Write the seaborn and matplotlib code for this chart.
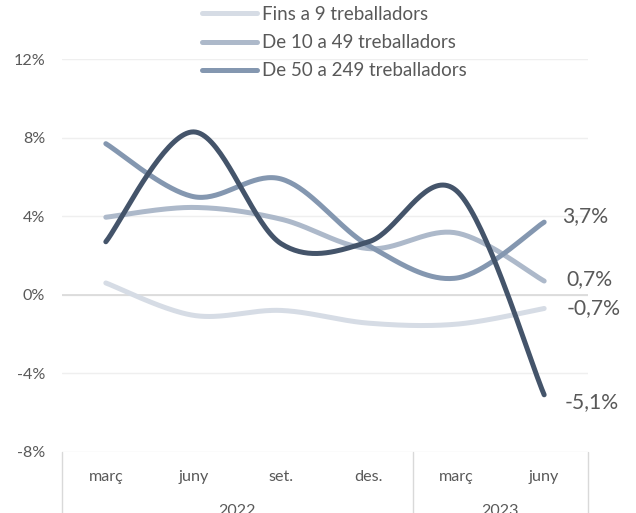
import matplotlib
matplotlib.use("Agg")
import matplotlib.pyplot as plt
import numpy as np
import pandas as pd
import seaborn as sns

# categories (quarters) and years
months = ["març", "juny", "set.", "des.", "març", "juny"]
years = ["2022", "2023"]
year_spans = [(0, 3), (4, 5)]

# series values (% variation)
fins_9 = [0.6, -1.05, -0.8, -1.45, -1.5, -0.7]
de_10_49 = [3.95, 4.45, 3.85, 2.35, 3.15, 0.7]
de_50_249 = [7.7, 5.0, 5.9, 2.5, 0.85, 3.7]
de_250 = [2.7, 8.3, 2.6, 2.7, 5.3, -5.1]

series_names = ["Fins a 9 treballadors", "De 10 a 49 treballadors",
                "De 50 a 249 treballadors", "De 250 treballadors i més"]
series_vals = [fins_9, de_10_49, de_50_249, de_250]
colors = ["#d6dce5", "#adb9ca", "#8497b0", "#44546a"]
# label offsets (points) for the end-of-line labels
label_offsets = [(16, 0), (16, 1.5), (13, 4), (14.5, -5)]


def excel_smooth(xs, ys, n=40):
	# bezier smoothing like Excel's "smoothed line"
	pts = np.column_stack([xs, ys]).astype(float)
	out = []
	for i in range(len(pts) - 1):
		p0 = pts[max(i - 1, 0)]
		p1 = pts[i]
		p2 = pts[i + 1]
		p3 = pts[min(i + 2, len(pts) - 1)]
		c1 = p1 + (p2 - p0) / 6
		c2 = p2 - (p3 - p1) / 6
		t = np.linspace(0, 1, n)[:, None]
		seg = (1 - t) ** 3 * p1 + 3 * (1 - t) ** 2 * t * c1 + 3 * (1 - t) * t ** 2 * c2 + t ** 3 * p2
		out.append(seg if i == 0 else seg[1:])
	return np.vstack(out)


rows = []
for name, vals in zip(series_names, series_vals):
	sm = excel_smooth(np.arange(len(vals)), vals)
	for xx, yy in sm:
		rows.append({"serie": name, "x": xx, "y": yy})
df = pd.DataFrame(rows)

sns.set_theme(style="white")
plt.rcParams["font.family"] = ["Lato", "DejaVu Sans"]
txt = "#595959"

fig = plt.figure(figsize=(6.36, 5.13), dpi=100)
ax = fig.add_axes([62 / 636, 1 - 451.7 / 513, 526 / 636, 392.4 / 513])

sns.lineplot(data=df, x="x", y="y", hue="serie", hue_order=series_names,
             palette=colors, sort=False, estimator=None,
             linewidth=3.6, solid_capstyle="round", legend=False, ax=ax)

ax.set_xlim(-0.5, 5.5)
ax.set_ylim(-8, 12)
ax.set_yticks([-8, -4, 0, 4, 8, 12])
ax.set_yticklabels([f"{v}%" for v in [-8, -4, 0, 4, 8, 12]])
ax.set_xticks(range(len(months)))
ax.set_xticklabels(months)
ax.tick_params(axis="y", length=0, pad=12, labelsize=11.6, labelcolor=txt)
ax.tick_params(axis="x", length=0, pad=13, labelsize=11.6, labelcolor=txt)
ax.set_xlabel("")
ax.set_ylabel("")
for s in ax.spines.values():
	s.set_visible(False)
ax.yaxis.grid(True, color="#efefef", linewidth=1)
ax.set_axisbelow(True)
ax.axhline(0, color="#d9d9d9", linewidth=1.2, zorder=1)

# category box separators
for xv in [-0.5, 3.5, 5.5]:
	ax.plot([xv, xv], [0, -0.2], transform=ax.get_xaxis_transform(),
	        clip_on=False, color="#d9d9d9", linewidth=1)
for yr, (a, b) in zip(years, year_spans):
	ax.annotate(yr, xy=((a + b) / 2, 0), xycoords=("data", "axes fraction"),
	            xytext=(0, -43), textcoords="offset points", ha="center", va="center",
	            fontsize=11.6, color=txt, annotation_clip=False)

# end labels
for vals, (dx, dy) in zip(series_vals, label_offsets):
	v = vals[-1]
	ax.annotate(f"{v:.1f}".replace(".", ",") + "%", xy=(len(vals) - 1, v),
	            xytext=(dx, dy), textcoords="offset points", ha="left", va="center",
	            fontsize=15.2, color=txt, annotation_clip=False)

handles = ax.get_lines()[:3]
fig.legend(handles, series_names[:3], loc="upper left", bbox_to_anchor=(201.7 / 636, 1 - 6 / 513),
           frameon=False, borderpad=0, borderaxespad=0, handlelength=2.95, handletextpad=0.27,
           labelspacing=0.6, fontsize=13.5, labelcolor=txt)

fig.savefig("out.png", dpi=100)
